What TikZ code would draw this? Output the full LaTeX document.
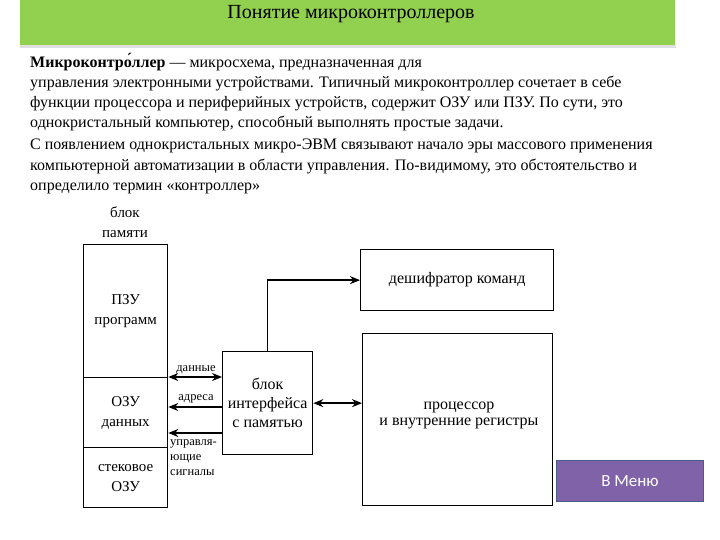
\documentclass[tikz,border=0pt]{standalone}
\usepackage{fontspec}
\setmainfont{Liberation Serif}
\newfontfamily\btnfont{Carlito}
\usetikzlibrary{arrows.meta,calc}
\definecolor{hdrgreen}{HTML}{92D050}
\definecolor{btnfill}{HTML}{8062A8}
\definecolor{btnedge}{HTML}{4A5A8A}
\begin{document}
\begin{tikzpicture}[x=1pt,y=-1pt,
  para/.style={anchor=base west,inner sep=0pt,font=\fontsize{16}{18}\selectfont},
  blk/.style={draw,line width=1.3pt,inner sep=0pt,anchor=north west},
  lbl/.style={inner sep=0pt,font=\fontsize{16}{19}\selectfont},
  mlbl/.style={inner sep=0pt,font=\fontsize{15}{20}\selectfont},
  small/.style={inner sep=0pt,font=\fontsize{12.5}{15}\selectfont},
  arr/.style={line width=1.4pt,-{Stealth[length=10pt,width=8pt]}},
  dbl/.style={line width=1.4pt,{Stealth[length=10pt,width=8pt]}-{Stealth[length=10pt,width=8pt]}}]
\useasboundingbox[fill=white] (0,0) rectangle (720,540);
% header
\fill[gray!25] (20,45) rectangle (676,48);
\node[fill=hdrgreen,minimum width=655pt,minimum height=45pt,anchor=north west,inner sep=0pt] (hdr) at (20,0) {};
\node[inner sep=0pt,anchor=base,font=\fontsize{20}{22}\selectfont] (title) at (351,19) {Понятие микроконтроллеров};
% paragraph
\node[para] (p1) at (30,68) {\textbf{Микроконтро́ллер} — микросхема, предназначенная для};
\node[para] (p2) at (30,88) {управления электронными устройствами. Типичный микроконтроллер сочетает в себе};
\node[para] (p3) at (30,108) {функции процессора и периферийных устройств, содержит ОЗУ или ПЗУ. По сути, это};
\node[para] (p4) at (30,128) {однокристальный компьютер, способный выполнять простые задачи.};
\node[para] (p5) at (30,150) {С появлением однокристальных микро-ЭВМ связывают начало эры массового применения};
\node[para] (p6) at (30,171) {компьютерной автоматизации в области управления. По-видимому, это обстоятельство и};
\node[para] (p7) at (30,191) {определило термин «контроллер»};
% memory block
\node[mlbl,align=center] (memlbl) at (125,222) {блок\\памяти};
\node[blk,minimum width=84pt,minimum height=133pt] (pzu) at (83,244) {};
\node[blk,minimum width=84pt,minimum height=70pt] (ozu) at (83,377) {};
\node[blk,minimum width=84pt,minimum height=60pt] (stk) at (83,447) {};
\node[mlbl,align=center] (pzut) at (pzu.center) {ПЗУ\\программ};
\node[mlbl,align=center] (ozut) at (ozu.center) {ОЗУ\\данных};
\node[mlbl,align=center] (stkt) at (stk.center) {стековое\\ОЗУ};
% interface
\node[blk,minimum width=90pt,minimum height=103pt] (iface) at (222,351) {};
\node[lbl,align=center] (ifacet) at (iface.center) {блок\\интерфейса\\с памятью};
% decoder
\node[blk,minimum width=193pt,minimum height=61pt] (dec) at (360,249) {};
\node[lbl] (dect) at (dec.center) {дешифратор команд};
% processor
\node[blk,minimum width=190pt,minimum height=172pt] (proc) at (362,333) {};
\node[lbl,align=center,font=\fontsize{16}{16}\selectfont] (proct) at (459,415) {процессор\\и внутренние регистры};
% connectors
\coordinate (adr) at (222,407);
\coordinate (ctl) at (222,433);
\draw[dbl] (ozu.north east) -- (ozu.north east -| iface.west);
\draw[arr] (adr) -- (adr -| ozu.east);
\draw[arr,line width=2.6pt] (ctl) -- (ctl -| ozu.east);
\draw[arr] (iface.north) |- (dec.west);
\draw[dbl] (iface.east) -- (iface.east -| proc.west);
\node[small,anchor=base] (ldat) at (196,371) {данные};
\node[small,anchor=base] (ladr) at (196,400) {адреса};
\node[small,anchor=north west,align=left] (lctl) at (170,439) {управля-\\ющие\\сигналы};
% button
\node[fill=btnfill,draw=btnedge,line width=1pt,minimum width=147pt,minimum height=41pt,anchor=north west,inner sep=0pt] (btn) at (556,460) {};
\node[text=white,font=\btnfont\fontsize{17}{19}\selectfont,inner sep=0pt] (btnt) at (btn.center) {В Меню};
\end{tikzpicture}
\end{document}
